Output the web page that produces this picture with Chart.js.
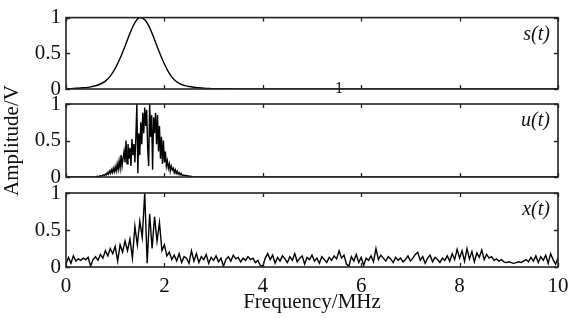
<!DOCTYPE html>
<html>
<head>
<meta charset="utf-8">
<script src="https://cdn.jsdelivr.net/npm/chart.js@4/dist/chart.umd.min.js"></script>
<style>
  body { margin: 0; background: #fff; overflow: hidden; }
  #wrap { position: relative; width: 569px; height: 318px; overflow: hidden; }
  #wrap canvas { position: absolute; left: 0; top: 0; }
  .stray { position: absolute; left: 335px; top: 79px; font: 16px "Liberation Serif", serif; color: #111; }
</style>
</head>
<body>
<div id="wrap">
  <canvas id="cS" width="580" height="360"></canvas>
  <canvas id="cU" width="580" height="360"></canvas>
  <canvas id="cX" width="580" height="360"></canvas>
  <div class="stray">1</div>
</div>
<script>
// axis ticks
const xTicks = [0, 2, 4, 6, 8, 10];
const yTicks = [0, 0.5, 1];

// s(t): smooth pulse spectrum
const sFreq = [0, 0.1, 0.2, 0.3, 0.4, 0.5, 0.6, 0.7, 0.8, 0.9, 1.0, 1.1, 1.2, 1.3, 1.4, 1.5, 1.6, 1.7, 1.8, 1.9,
  2.0, 2.1, 2.2, 2.3, 2.4, 2.5, 2.6, 2.7, 2.8, 2.9, 3.0, 3.2, 3.5, 4, 6, 8, 10];
const sAmp = [0, 0.005, 0.01, 0.015, 0.02, 0.03, 0.045, 0.07, 0.11, 0.18, 0.29, 0.43, 0.60, 0.78, 0.93, 1.0, 0.97, 0.86, 0.69, 0.51,
  0.35, 0.22, 0.13, 0.08, 0.05, 0.035, 0.025, 0.018, 0.012, 0.008, 0.005, 0.003, 0.001, 0, 0, 0, 0];

// u(t): noisy band, sampled from 0.6 MHz every 0.02 MHz (zero outside)
const uStart = 0.6, uStep = 0.02;
const uAmp = [
  0, 0.005, 0.01, 0.005, 0.01, 0.02, 0.01, 0.02, 0.03, 0.02,
  0.04, 0.03, 0.06, 0.04, 0.08, 0.05, 0.10, 0.06, 0.12, 0.07,
  0.14, 0.08, 0.18, 0.10, 0.22, 0.12, 0.30, 0.15, 0.26, 0.35,
  0.20, 0.50, 0.18, 0.45, 0.25, 0.40, 0.15, 0.52, 0.30, 0.45,
  0.20, 0.55, 1.00, 0.05, 0.60, 0.30, 0.75, 0.45, 0.88, 0.60,
  0.95, 0.70, 0.92, 0.40, 0.15, 1.00, 0.55, 0.85, 0.10, 0.82,
  0.60, 0.88, 0.45, 0.85, 0.35, 0.70, 0.25, 0.55, 0.18, 0.50,
  0.20, 0.35, 0.15, 0.22, 0.12, 0.18, 0.08, 0.15, 0.10, 0.12,
  0.06, 0.10, 0.05, 0.08, 0.04, 0.06, 0.03, 0.05, 0.02, 0.03,
  0.02, 0.025, 0.015, 0.02, 0.01, 0.015, 0.008, 0.01, 0.005, 0.005,
  0.003, 0.002, 0.001, 0
];

// x(t): received signal with noise, every 0.05 MHz from 0 to 10
const xStep = 0.05;
const xAmp = [
  0.04, 0.13, 0.05, 0.15, 0.08, 0.11, 0.09, 0.12, 0.10, 0.13,
  0.01, 0.10, 0.14, 0.09, 0.17, 0.12, 0.22, 0.15, 0.25, 0.18,
  0.28, 0.08, 0.30, 0.20, 0.35, 0.22, 0.38, 0.12, 0.55, 0.30,
  0.62, 0.40, 1.00, 0.05, 0.72, 0.25, 0.68, 0.35, 0.60, 0.22,
  0.30, 0.15, 0.20, 0.10, 0.16, 0.08, 0.18, 0.06, 0.14, 0.12,
  0.05,
  0.22, 0.08, 0.18, 0.06, 0.14, 0.10, 0.17, 0.05, 0.13, 0.09,
  0.15, 0.07, 0.12, 0.01, 0.10, 0.14, 0.08, 0.16, 0.11, 0.13,
  0.07, 0.12, 0.09, 0.14, 0.10, 0.12, 0.06, 0.09, 0.02, 0.01,
  0.12, 0.18, 0.10, 0.16, 0.05, 0.13, 0.08, 0.15, 0.11, 0.06,
  0.14, 0.09, 0.18, 0.07, 0.12, 0.15, 0.04, 0.13, 0.10, 0.16,
  0.08, 0.12, 0.05, 0.14, 0.10, 0.06, 0.13, 0.09, 0.15, 0.11,
  0.22, 0.12, 0.16, 0.04, 0.01, 0.14, 0.08, 0.17, 0.06, 0.13,
  0.02, 0.12, 0.09, 0.15, 0.07, 0.25, 0.10, 0.16, 0.12, 0.08,
  0.14, 0.11, 0.06, 0.13, 0.09, 0.12, 0.07, 0.10, 0.15, 0.08,
  0.12, 0.17, 0.20, 0.09, 0.14, 0.05, 0.12, 0.16, 0.07, 0.13,
  0.10, 0.06, 0.12, 0.09, 0.15, 0.08, 0.18, 0.10, 0.24, 0.12,
  0.22, 0.08, 0.25, 0.11, 0.21, 0.07, 0.19, 0.13, 0.23, 0.10,
  0.17, 0.12, 0.14, 0.09, 0.11, 0.08, 0.10, 0.07, 0.06, 0.07,
  0.06, 0.05, 0.06, 0.07, 0.06, 0.08, 0.10, 0.07, 0.13, 0.08,
  0.15, 0.06, 0.14, 0.09, 0.16, 0.05, 0.18, 0.10, 0.04, 0.12
];

const sPts = sFreq.map((f, i) => ({ x: f, y: sAmp[i] }));
const uPts = [{ x: 0, y: 0 }]
  .concat(uAmp.map((v, i) => ({ x: uStart + i * uStep, y: v })))
  .concat([{ x: 10, y: 0 }]);
const xPts = xAmp.map((v, i) => ({ x: i * xStep, y: v }));

const serif = '"Liberation Serif", "Times New Roman", serif';
const W = 580, H = 360; // canvas size, the excess is cut off by the page

// box round the plot area plus inward tick marks
const framePlugin = {
  id: 'frame',
  afterDraw(chart, args, opts) {
    const ctx = chart.ctx, a = chart.chartArea;
    const xs = chart.scales.x, ys = chart.scales.y;
    ctx.save();
    ctx.strokeStyle = '#222';
    ctx.lineWidth = 1.6;
    ctx.strokeRect(a.left, a.top, a.right - a.left, a.bottom - a.top);
    ctx.lineWidth = 1.3;
    ctx.beginPath();
    xTicks.forEach(t => {
      const px = Math.round(xs.getPixelForValue(t)) + 0.5;
      ctx.moveTo(px, a.top); ctx.lineTo(px, a.top + 4);
      ctx.moveTo(px, a.bottom); ctx.lineTo(px, a.bottom - 4);
    });
    yTicks.forEach(t => {
      const py = Math.round(ys.getPixelForValue(t)) + 0.5;
      ctx.moveTo(a.left, py); ctx.lineTo(a.left + 4, py);
      ctx.moveTo(a.right, py); ctx.lineTo(a.right - 4, py);
    });
    ctx.stroke();
    // series name in the top right corner
    ctx.fillStyle = '#111';
    ctx.font = 'italic 20px ' + serif;
    ctx.textAlign = 'right';
    ctx.textBaseline = 'middle';
    ctx.fillText(opts.name, a.right - 8, a.top + 17);
    ctx.restore();
  }
};

function makePanel(id, pts, name, top, bottom, showX, yTitle) {
  const chart = new Chart(document.getElementById(id), {
    type: 'line',
    data: { datasets: [{ data: pts, borderColor: '#000', borderWidth: 1.4, pointRadius: 0, fill: false,
      cubicInterpolationMode: id === 'cS' ? 'monotone' : 'default', tension: 0 }] },
    options: {
      responsive: false,
      animation: false,
      events: [],
      layout: { padding: { left: 0, right: W - 558, top: top, bottom: H - bottom } },
      plugins: { legend: { display: false }, tooltip: { enabled: false }, frame: { name: name } },
      scales: {
        x: {
          type: 'linear', min: 0, max: 10,
          display: showX,
          afterBuildTicks: s => { s.ticks = xTicks.map(v => ({ value: v })); },
          grid: { display: false, drawTicks: false },
          border: { display: false },
          ticks: { color: '#111', font: { family: serif, size: 21 }, padding: 7, maxRotation: 0, autoSkip: false,
            callback: v => String(v) },
          title: { display: showX, text: 'Frequency/MHz', color: '#111', font: { family: serif, size: 21 }, padding: { top: -16, bottom: 0 } }
        },
        y: {
          min: 0, max: 1,
          afterBuildTicks: s => { s.ticks = yTicks.map(v => ({ value: v })); },
          afterFit: s => { s.width = 66; },
          grid: { display: false, drawTicks: false },
          border: { display: false },
          ticks: { color: '#111', font: { family: serif, size: 21 }, padding: 5, autoSkip: false,
            callback: v => String(v) },
          title: { display: !!yTitle, text: yTitle || '', color: '#111', font: { family: serif, size: 21 }, padding: { top: 0, bottom: 0 } }
        }
      }
    },
    plugins: [framePlugin]
  });
  // nudge padding a few times so the plot box lands where the panel sits
  const p = chart.config.options.layout.padding;
  for (let k = 0; k < 4; k++) {
    const a = chart.chartArea;
    if (Math.abs(a.top - top) < 0.5 && Math.abs(a.bottom - bottom) < 0.5) break;
    p.top += top - a.top;
    p.bottom += a.bottom - bottom;
    chart.update();
  }
  return chart;
}

makePanel('cS', sPts, 's(t)', 15, 89, false, null);
makePanel('cU', uPts, 'u(t)', 104, 177, false, 'Amplitude/V');
makePanel('cX', xPts, 'x(t)', 193, 267, true, null);
</script>
</body>
</html>
